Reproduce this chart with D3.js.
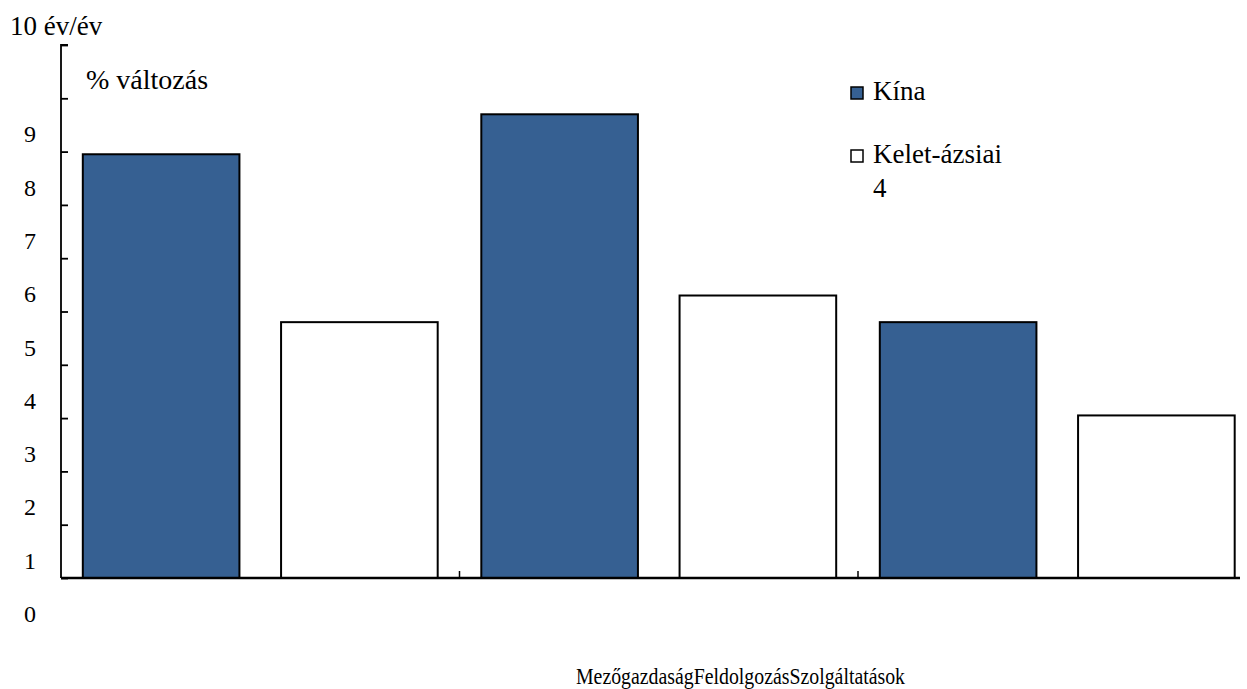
<!DOCTYPE html>
<html>
<head>
<meta charset="utf-8">
<script src="https://cdn.jsdelivr.net/npm/d3@7"></script>
<style>
  html, body { margin: 0; padding: 0; background: #fff; }
  svg text { font-family: "Liberation Serif", "Times New Roman", serif; fill: #000; }
</style>
</head>
<body>
<svg id="chart" width="1247" height="689"></svg>
<script>
// Growth by sector, % change year on year
const categories = ["Mezőgazdaság", "Feldolgozás", "Szolgáltatások"];
const seriesNames = ["Kína", "Kelet-ázsiai 4"];
const chinaValues = [7.95, 8.7, 4.8];
const eastAsia4Values = [4.8, 5.3, 3.05];
const yTickValues = [0, 1, 2, 3, 4, 5, 6, 7, 8, 9];
const yTopLabel = "10 év/év";
const unitLabel = "% változás";

const seriesValues = [chinaValues, eastAsia4Values];
const colors = ["#366092", "#ffffff"];

const svg = d3.select("#chart");
const x0 = 61, yBase = 578, yTop = 45;

const y = d3.scaleLinear().domain([0, 10]).range([yBase, yTop]);
const xGroup = d3.scaleBand().domain(categories).range([x0, x0 + 3 * 398.5]).padding(0);
const xSub = d3.scaleBand().domain(seriesNames).range([0, xGroup.bandwidth()])
  .paddingInner(0.21).paddingOuter(0.11);

const rows = [];
categories.forEach((c, i) => {
  seriesNames.forEach((s, j) => rows.push({ cat: c, series: s, value: seriesValues[j][i], color: colors[j] }));
});

// Bars
svg.append("g").selectAll("rect").data(rows).join("rect")
  .attr("x", d => xGroup(d.cat) + xSub(d.series))
  .attr("y", d => y(d.value))
  .attr("width", xSub.bandwidth())
  .attr("height", d => y(0) - y(d.value))
  .attr("fill", d => d.color)
  .attr("stroke", "#000")
  .attr("stroke-width", 2);

// Y axis: ticks pointing inward, labels set below each tick
const yAxis = svg.append("g").attr("transform", `translate(${x0},0)`)
  .call(d3.axisRight(y).tickValues(d3.range(0, 11)).tickSize(7).tickFormat(""));
yAxis.select(".domain").attr("d", `M7,${yTop}H0V${yBase}`).attr("stroke", "#000").attr("stroke-width", 1.8);
yAxis.selectAll(".tick line").attr("stroke", "#000").attr("stroke-width", 1.8);

svg.append("g").selectAll("text").data(yTickValues).join("text")
  .attr("x", 30).attr("y", d => y(d) + 44)
  .attr("text-anchor", "middle").attr("font-size", 24)
  .text(d => d);

svg.append("text").attr("x", 10).attr("y", 35).attr("font-size", 27).text(yTopLabel);
svg.append("text").attr("x", 86).attr("y", 89).attr("font-size", 28).text(unitLabel);

// X axis with group separators
const xAxis = svg.append("g").attr("transform", `translate(0,${yBase})`)
  .call(d3.axisTop(xGroup).tickSize(0).tickFormat(""));
xAxis.select(".domain").attr("d", `M${x0},0H1240`).attr("stroke", "#000").attr("stroke-width", 2.5);
xAxis.selectAll(".tick").remove();
const separators = categories.slice(1).map(c => xGroup(c));
svg.append("g").selectAll("line").data(separators).join("line")
  .attr("x1", d => d).attr("x2", d => d)
  .attr("y1", yBase).attr("y2", yBase - 7)
  .attr("stroke", "#000").attr("stroke-width", 1.5);

// Category names, run together as one line
const catText = svg.append("text").attr("x", 576).attr("y", 684)
  .attr("font-size", 23)
  .attr("textLength", 329).attr("lengthAdjust", "spacingAndGlyphs")
  .text(categories.join(""));

// Legend
const legend = svg.append("g");
const legendRows = [
  { name: seriesNames[0], color: colors[0], y: 87 },
  { name: seriesNames[1], color: colors[1], y: 150 }
];
legend.selectAll("rect").data(legendRows).join("rect")
  .attr("x", 851).attr("y", d => d.y).attr("width", 12).attr("height", 12)
  .attr("fill", d => d.color).attr("stroke", "#000").attr("stroke-width", 1.5);
legend.selectAll("text").data(legendRows).join("text")
  .attr("x", 873).attr("y", d => d.y + 13).attr("font-size", 27)
  .each(function(d) {
    const parts = d.name.split(" ");
    const t = d3.select(this);
    parts.forEach((p, i) => t.append("tspan").attr("x", 873).attr("dy", i ? 34 : 0).text(p));
  });
</script>
</body>
</html>
